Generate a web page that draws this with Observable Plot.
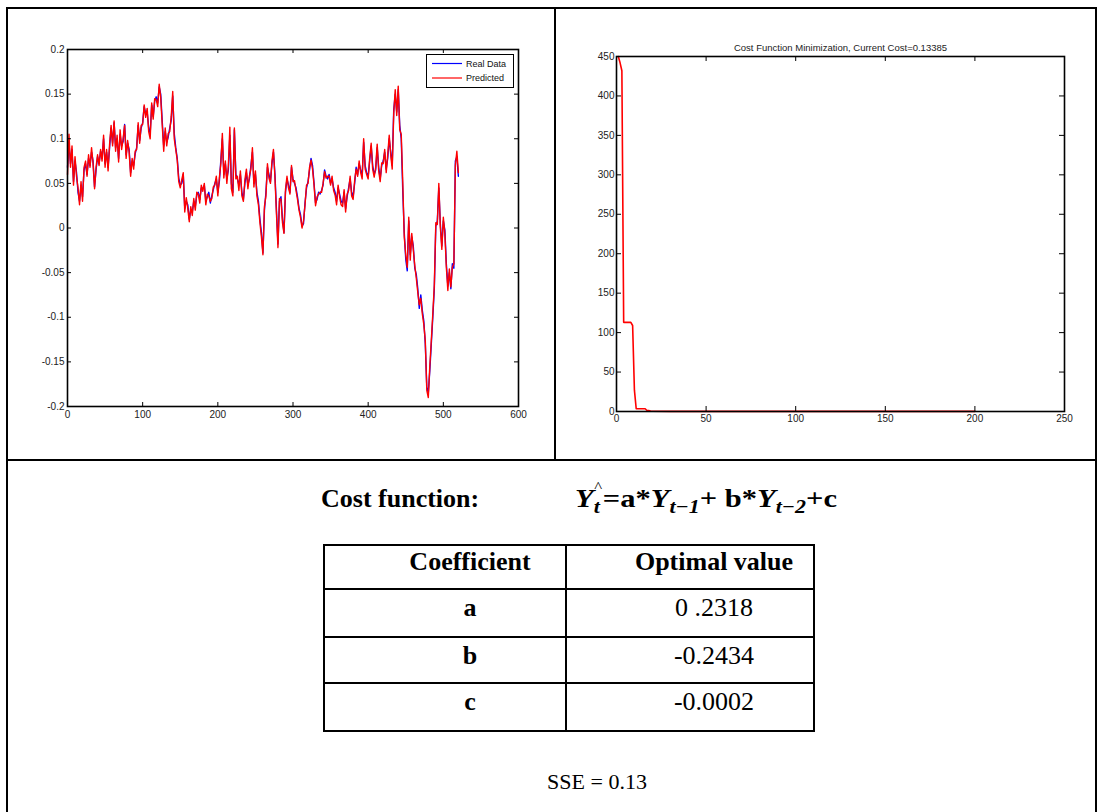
<!DOCTYPE html>
<html>
<head>
<meta charset="utf-8">
<script src="https://cdn.jsdelivr.net/npm/d3@7"></script>
<script src="https://cdn.jsdelivr.net/npm/@observablehq/plot@0.6"></script>
<style>
  html, body { margin: 0; padding: 0; background: #fff; }
  #page { position: relative; width: 1099px; height: 812px; overflow: hidden; background: #fff; }
  .ln { position: absolute; background: #000; }
  .chart { position: absolute; }
  .txt { position: absolute; font-family: "Liberation Serif", "Times New Roman", serif; color: #000; line-height: 1; white-space: nowrap; }
  .b { font-weight: bold; }
  .bi { font-weight: bold; font-style: italic; }
  .ctr { transform: translateX(-50%); }
  .legend { position: absolute; border: 1.5px solid #000; background: #fff; box-sizing: border-box;
            font-family: "Liberation Sans", Arial, sans-serif; font-size: 9px; color: #111; }
  .legend svg { position: absolute; left: 0; top: 0; }
  sub.s { font-size: 0.72em; vertical-align: -0.32em; }
</style>
</head>
<body>
<div id="page">
  <!-- document table borders -->
  <div class="ln" style="left:6px;top:7px;width:1091px;height:2px"></div>
  <div class="ln" style="left:6px;top:7px;width:2px;height:810px"></div>
  <div class="ln" style="left:1095px;top:7px;width:2px;height:810px"></div>
  <div class="ln" style="left:554px;top:7px;width:2px;height:454px"></div>
  <div class="ln" style="left:6px;top:459px;width:1091px;height:2px"></div>

  <div id="left" class="chart" style="left:0;top:0"></div>
  <div id="right" class="chart" style="left:560px;top:0"></div>
  <div id="legend" class="legend" style="left:426px;top:54px;width:88px;height:34px"></div>

  <div id="lower"></div>
</div>
<script>
// ---------------- Left chart data (every 2nd time step, t = 0..520) ----------------
const realData = [
  0.068, 0.095, 0.072, 0.088, 0.052, 0.075, 0.062, 0.040, 0.030, 0.048,
  0.035, 0.065, 0.072, 0.060, 0.078, 0.070, 0.085, 0.075, 0.046, 0.065,
  0.080, 0.072, 0.086, 0.078, 0.100, 0.072, 0.085, 0.068, 0.090, 0.112,
  0.095, 0.118, 0.090, 0.100, 0.078, 0.105, 0.092, 0.097, 0.116, 0.082,
  0.095, 0.088, 0.062, 0.075, 0.070, 0.083, 0.090, 0.115, 0.098, 0.112,
  0.118, 0.136, 0.128, 0.130, 0.112, 0.106, 0.138, 0.125, 0.142, 0.147,
  0.140, 0.158, 0.150, 0.120, 0.092, 0.108, 0.096, 0.102, 0.112, 0.121,
  0.148, 0.106, 0.090, 0.078, 0.056, 0.048, 0.050, 0.060, 0.022, 0.030,
  0.026, 0.010, 0.020, 0.018, 0.030, 0.024, 0.037, 0.040, 0.032, 0.045,
  0.044, 0.048, 0.030, 0.035, 0.040, 0.028, 0.036, 0.043, 0.050, 0.055,
  0.040, 0.052, 0.076, 0.100, 0.060, 0.072, 0.055, 0.065, 0.104, 0.050,
  0.040, 0.110, 0.060, 0.055, 0.048, 0.060, 0.040, 0.032, 0.050, 0.062,
  0.048, 0.055, 0.070, 0.085, 0.050, 0.060, 0.040, 0.030, 0.010, -0.005,
  -0.028, 0.020, 0.040, 0.068, 0.060, 0.052, 0.072, 0.085, 0.060, 0.020,
  -0.018, 0.030, 0.035, 0.010, -0.005, 0.040, 0.055, 0.048, 0.040, 0.068,
  0.055, 0.050, 0.045, 0.035, 0.022, 0.015, 0.002, 0.005, 0.028, 0.045,
  0.052, 0.065, 0.078, 0.070, 0.050, 0.028, 0.032, 0.040, 0.038, 0.042,
  0.048, 0.065, 0.058, 0.055, 0.060, 0.050, 0.055, 0.045, 0.040, 0.030,
  0.045, 0.038, 0.030, 0.028, 0.040, 0.022, 0.035, 0.045, 0.055, 0.040,
  0.035, 0.050, 0.068, 0.060, 0.072, 0.065, 0.058, 0.096, 0.070, 0.062,
  0.058, 0.075, 0.092, 0.070, 0.060, 0.065, 0.090, 0.068, 0.055, 0.070,
  0.075, 0.085, 0.066, 0.078, 0.100, 0.085, 0.070, 0.132, 0.150, 0.130,
  0.155, 0.115, 0.100, 0.042, -0.005, -0.035, -0.048, 0.008, -0.030, -0.010,
  -0.020, -0.045, -0.052, -0.068, -0.090, -0.075, -0.092, -0.104, -0.130, -0.178,
  -0.185, -0.160, -0.130, -0.100, -0.068, 0.002, 0.008, 0.045, 0.005, -0.020,
  0.008, -0.002, -0.040, -0.065, -0.050, -0.068, -0.040, -0.045, 0.075, 0.080,
  0.058
];
const predictedData = [
  0.060, 0.105, 0.068, 0.092, 0.048, 0.080, 0.058, 0.045, 0.026, 0.052,
  0.030, 0.068, 0.075, 0.058, 0.082, 0.068, 0.090, 0.072, 0.044, 0.068,
  0.082, 0.070, 0.088, 0.075, 0.104, 0.068, 0.088, 0.064, 0.094, 0.115,
  0.092, 0.120, 0.086, 0.104, 0.074, 0.110, 0.088, 0.100, 0.115, 0.078,
  0.098, 0.085, 0.058, 0.078, 0.066, 0.086, 0.088, 0.118, 0.095, 0.115,
  0.116, 0.138, 0.124, 0.134, 0.108, 0.100, 0.140, 0.122, 0.145, 0.144,
  0.136, 0.161, 0.146, 0.116, 0.086, 0.112, 0.092, 0.106, 0.108, 0.125,
  0.153, 0.100, 0.088, 0.076, 0.052, 0.045, 0.054, 0.062, 0.018, 0.034,
  0.022, 0.007, 0.024, 0.014, 0.033, 0.020, 0.040, 0.038, 0.028, 0.048,
  0.041, 0.050, 0.026, 0.038, 0.036, 0.030, 0.033, 0.046, 0.048, 0.058,
  0.036, 0.056, 0.072, 0.106, 0.056, 0.075, 0.050, 0.070, 0.113, 0.044,
  0.036, 0.112, 0.055, 0.058, 0.042, 0.064, 0.036, 0.030, 0.054, 0.066,
  0.044, 0.058, 0.066, 0.090, 0.046, 0.064, 0.036, 0.026, 0.006, -0.010,
  -0.030, 0.024, 0.036, 0.072, 0.056, 0.050, 0.075, 0.088, 0.056, 0.016,
  -0.022, 0.033, 0.032, 0.006, -0.006, 0.043, 0.058, 0.045, 0.038, 0.070,
  0.052, 0.053, 0.042, 0.032, 0.020, 0.012, 0.000, 0.008, 0.026, 0.048,
  0.050, 0.068, 0.076, 0.066, 0.048, 0.025, 0.035, 0.038, 0.040, 0.040,
  0.050, 0.063, 0.056, 0.058, 0.058, 0.048, 0.058, 0.042, 0.037, 0.026,
  0.048, 0.035, 0.026, 0.024, 0.043, 0.018, 0.038, 0.042, 0.058, 0.036,
  0.032, 0.053, 0.066, 0.058, 0.075, 0.062, 0.055, 0.100, 0.066, 0.060,
  0.055, 0.078, 0.095, 0.066, 0.057, 0.068, 0.094, 0.064, 0.052, 0.073,
  0.072, 0.088, 0.062, 0.082, 0.104, 0.082, 0.066, 0.128, 0.155, 0.126,
  0.159, 0.110, 0.105, 0.052, -0.010, -0.030, -0.044, 0.012, -0.036, -0.006,
  -0.024, -0.042, -0.056, -0.072, -0.086, -0.079, -0.096, -0.108, -0.126, -0.182,
  -0.190, -0.155, -0.126, -0.096, -0.064, 0.006, 0.004, 0.050, 0.001, -0.024,
  0.012, -0.006, -0.044, -0.070, -0.046, -0.066, -0.044, -0.040, 0.070, 0.086,
  0.062
];
const timeStep = 2;
const seriesNames = ["Real Data", "Predicted"];
const seriesColors = ["#0000ff", "#ff0000"];
const xTicksLeft = [0, 100, 200, 300, 400, 500, 600];
const yTicksLeft = [-0.2, -0.15, -0.1, -0.05, 0, 0.05, 0.1, 0.15, 0.2];

// ---------------- Right chart data ----------------
const chartTitle = "Cost Function Minimization, Current Cost=0.13385";
const iterations = [1, 2, 3, 4, 5, 6, 7, 8, 9, 10, 11, 12, 13, 14, 15, 16, 17, 18, 19, 20, 30, 50, 100, 150, 200];
const costValues = [450, 442, 432, 113, 113, 113, 113, 113, 109, 27, 3.5, 3.5, 3.5, 3.5, 3.5, 3.5, 1.3, 1.2, 0.6, 0.4, 0.2, 0.16, 0.14, 0.135, 0.13385];
const xTicksRight = [0, 50, 100, 150, 200, 250];
const yTicksRight = [0, 50, 100, 150, 200, 250, 300, 350, 400, 450];

// ---------------- Lower section text ----------------
const costLabel = "Cost function:";
const tableHeader = ["Coefficient", "Optimal value"];
const coefNames = ["a", "b", "c"];
const coefValues = ["0 .2318", "-0.2434", "-0.0002"];
const sseText = "SSE = 0.13";

const fmt = d => String(+d.toFixed(2));
const axisFont = "Liberation Sans, Arial, Helvetica, sans-serif";

// ---------- Left chart ----------
{
  const W = 550, H = 440, mL = 67, mR = 32, mT = 49, mB = 34;
  const fw = W - mL - mR, fh = H - mT - mB, tk = 4;
  const real = realData.map((v, i) => ({t: i * timeStep, v}));
  const pred = predictedData.map((v, i) => ({t: i * timeStep, v}));
  const chart = Plot.plot({
    width: W, height: H, marginLeft: mL, marginRight: mR, marginTop: mT, marginBottom: mB,
    style: {fontFamily: axisFont, fontSize: "10px", color: "#222", background: "transparent", overflow: "visible"},
    x: {domain: [0, 600]},
    y: {domain: [-0.2, 0.2]},
    marks: [
      Plot.line(real, {x: "t", y: "v", stroke: seriesColors[0], strokeWidth: 1.4}),
      Plot.line(pred, {x: "t", y: "v", stroke: seriesColors[1], strokeWidth: 1.4}),
      Plot.tickX(xTicksLeft, {x: d => d, insetTop: fh - tk, stroke: "#000"}),
      Plot.tickX(xTicksLeft, {x: d => d, insetBottom: fh - tk, stroke: "#000"}),
      Plot.tickY(yTicksLeft, {y: d => d, insetRight: fw - tk, stroke: "#000"}),
      Plot.tickY(yTicksLeft, {y: d => d, insetLeft: fw - tk, stroke: "#000"}),
      Plot.frame({stroke: "#000", strokeWidth: 1.6}),
      Plot.axisX(xTicksLeft, {anchor: "bottom", tickSize: 0, tickPadding: 4, tickFormat: fmt, fill: "#222", label: null}),
      Plot.axisY(yTicksLeft, {anchor: "left", tickSize: 0, tickPadding: 3, tickFormat: fmt, fill: "#222", label: null})
    ]
  });
  document.getElementById("left").appendChild(chart);
}

// ---------- Legend ----------
{
  const lg = document.getElementById("legend");
  const rowsY = [8.5, 23];
  let svg = `<svg width="86" height="32" xmlns="http://www.w3.org/2000/svg">`;
  seriesNames.forEach((name, i) => {
    svg += `<line x1="5" x2="35" y1="${rowsY[i]}" y2="${rowsY[i]}" stroke="${seriesColors[i]}" stroke-width="1.2"/>`;
    svg += `<text x="39" y="${rowsY[i]}" dy="0.35em" font-family="Liberation Sans, Arial, sans-serif" font-size="9" fill="#111">${name}</text>`;
  });
  svg += `</svg>`;
  lg.innerHTML = svg;
}

// ---------- Right chart ----------
{
  const W = 530, H = 440, mL = 56, mR = 26, mT = 56, mB = 29;
  const fw = W - mL - mR, fh = H - mT - mB, tk = 5;
  const cost = iterations.map((it, i) => ({it, c: costValues[i]}));
  const chart = Plot.plot({
    width: W, height: H, marginLeft: mL, marginRight: mR, marginTop: mT, marginBottom: mB,
    style: {fontFamily: axisFont, fontSize: "10px", color: "#222", background: "transparent", overflow: "visible"},
    x: {domain: [0, 250]},
    y: {domain: [0, 450]},
    marks: [
      Plot.line(cost, {x: "it", y: "c", stroke: "#ff0000", strokeWidth: 1.6}),
      Plot.tickX(xTicksRight, {x: d => d, insetTop: fh - tk, stroke: "#000"}),
      Plot.tickX(xTicksRight, {x: d => d, insetBottom: fh - tk, stroke: "#000"}),
      Plot.tickY(yTicksRight, {y: d => d, insetRight: fw - tk, stroke: "#000"}),
      Plot.tickY(yTicksRight, {y: d => d, insetLeft: fw - tk, stroke: "#000"}),
      Plot.frame({stroke: "#000", strokeWidth: 1.6}),
      Plot.axisX(xTicksRight, {anchor: "bottom", tickSize: 0, tickPadding: 3, tickFormat: d => String(d), fill: "#222", label: null}),
      Plot.axisY(yTicksRight, {anchor: "left", tickSize: 0, tickPadding: 2, tickFormat: d => String(d), fill: "#222", label: null}),
      Plot.text([chartTitle], {text: d => d, frameAnchor: "top", dy: -12, fontSize: 9.5, fill: "#222"})
    ]
  });
  document.getElementById("right").appendChild(chart);
}

// ---------- Lower section ----------
{
  const lower = document.getElementById("lower");
  const FS = 26;
  const add = (html, style, cls = "") => {
    const d = document.createElement("div");
    d.className = "txt " + cls;
    d.style.cssText = style;
    d.innerHTML = html;
    lower.appendChild(d);
    return d;
  };
  add(costLabel, `left:321px;top:${499 - FS / 2}px;font-size:${FS}px`, "b");
  const formula =
    `<span class="bi">Y</span><span style="display:inline-block;position:relative;width:0.3em"><span style="position:absolute;left:0.04em;top:-0.42em;font-size:0.55em;font-weight:normal">^</span><span class="bi" style="position:relative;top:0.32em;font-size:0.72em">t</span></span>` +
    `<span class="b">=a*</span><span class="bi">Y</span><sub class="s bi">t−1</sub><span class="b">+ b*</span><span class="bi">Y</span><sub class="s bi">t−2</sub><span class="b">+c</span>`;
  const f = add(formula, `left:575px;top:${499 - FS / 2}px;font-size:${FS}px;transform-origin:0 50%`);
  const fwNat = f.getBoundingClientRect().width;
  if (fwNat > 0) f.style.transform = `scaleX(${262 / fwNat})`;

  // table lines
  const L = 324, R = 814, M = 566, rows = [545, 589, 637, 683, 731];
  const line = (x, y, w, h) => {
    const d = document.createElement("div");
    d.className = "ln";
    d.style.cssText = `left:${x}px;top:${y}px;width:${w}px;height:${h}px`;
    lower.appendChild(d);
  };
  rows.forEach(y => line(L - 1, y - 1, R - L + 2, 2));
  line(L - 1, rows[0] - 1, 2, rows[4] - rows[0] + 2);
  line(R - 1, rows[0] - 1, 2, rows[4] - rows[0] + 2);
  line(M - 1, rows[0] - 1, 2, rows[4] - rows[0] + 2);

  const colX = [470, 714];
  const textCenters = [562, 608, 656, 702];
  add(tableHeader[0], `left:${colX[0]}px;top:${textCenters[0] - FS / 2}px;font-size:${FS}px`, "b ctr");
  add(tableHeader[1], `left:${colX[1]}px;top:${textCenters[0] - FS / 2}px;font-size:${FS}px`, "b ctr");
  coefNames.forEach((n, i) => {
    add(n, `left:${colX[0]}px;top:${textCenters[i + 1] - FS / 2}px;font-size:${FS}px`, "b ctr");
    add(coefValues[i], `left:${colX[1]}px;top:${textCenters[i + 1] - FS / 2}px;font-size:${FS}px`, "ctr");
  });
  add(sseText, `left:597px;top:${782 - 11}px;font-size:22px`, "ctr");
}
</script>
</body>
</html>
